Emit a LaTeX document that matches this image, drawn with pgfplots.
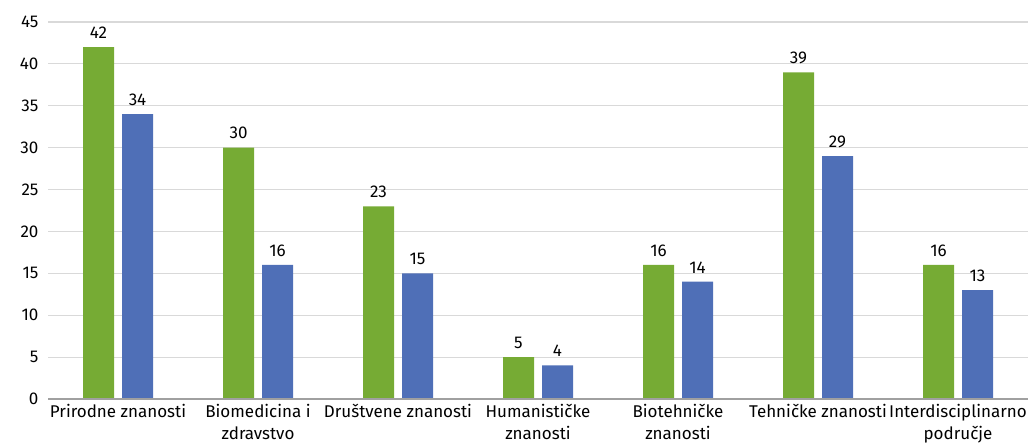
\documentclass[border=0pt]{standalone}
\usepackage{pgfplots}
\pgfplotsset{compat=1.18}
\usepackage{fontspec}
\setmainfont{Fira Sans}
\definecolor{cgreen}{RGB}{118,171,52}
\definecolor{cblue}{RGB}{79,111,183}
\definecolor{cgrid}{RGB}{217,217,217}
\definecolor{cbase}{RGB}{160,160,160}
\begin{document}
\begin{tikzpicture}[x=1pt,y=1pt]
\path[use as bounding box] (0,-48) rectangle (1028,399);
\begin{axis}[
  at={(48pt,0pt)}, anchor=south west,
  scale only axis, width=980pt, height=377pt,
  xmin=-0.5, xmax=6.5, ymin=0, ymax=45,
  axis line style={draw=none},
  ytick={0,5,...,45},
  ymajorgrids, grid style={cgrid, line width=1.2pt},
  major tick length=0pt,
  xtick={0,...,6},
  xticklabels={Prirodne znanosti,Biomedicina i\\zdravstvo,Društvene znanosti,Humanističke\\znanosti,Biotehničke\\znanosti,Tehničke znanosti,Interdisciplinarno\\područje},
  xticklabel style={align=center, font=\fontsize{17}{22}\selectfont, anchor=north, yshift=-2pt},
  yticklabel style={font=\fontsize{17}{20}\selectfont, xshift=-6pt},
  /pgf/number format/assume math mode=true,
  ybar, bar width=31pt,
  nodes near coords,
  every node near coord/.append style={font=\fontsize{17}{20}\selectfont, color=black, yshift=5pt},
  clip=false,
]
\addplot[draw=none, fill=cgreen, bar shift=-19.5pt] coordinates {(0,42) (1,30) (2,23) (3,5) (4,16) (5,39) (6,16)};
\addplot[draw=none, fill=cblue, bar shift=19.5pt] coordinates {(0,34) (1,16) (2,15) (3,4) (4,14) (5,29) (6,13)};
\draw[cbase, line width=2pt] (axis cs:-0.5,0) -- (axis cs:6.5,0);
\end{axis}
\end{tikzpicture}
\end{document}
